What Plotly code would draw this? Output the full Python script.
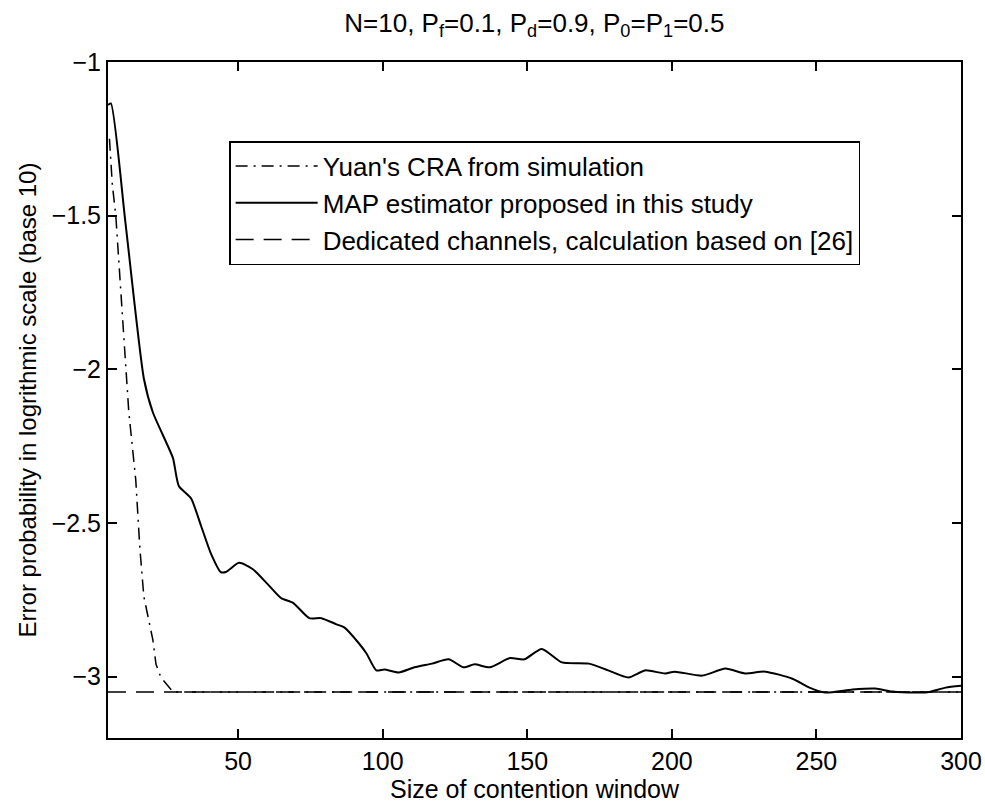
import plotly.graph_objects as go

# ---- data ----
x_map = [5, 6, 11, 17.4, 20.5, 25, 27.5, 29.5, 33.7, 37.2, 40.6, 44, 45.8, 50.3, 55, 60.3,
         64.9, 69, 74.6, 78.8, 84, 86.7, 91.6, 94.4, 97.8, 100.6, 105.5, 111, 117, 122.8,
         128, 131.8, 137, 144, 149, 155, 162, 171.3, 178, 185, 190.7, 197.7, 201, 210.5,
         218.5, 225.4, 232.3, 241.7, 247.6, 253, 262.5, 270.4, 276.3, 285.7, 289, 294.7, 300]
y_map = [-1.14, -1.135, -1.52, -2.03, -2.14, -2.235, -2.29, -2.38, -2.42, -2.51, -2.60,
         -2.66, -2.66, -2.63, -2.65, -2.70, -2.745, -2.76, -2.81, -2.81, -2.83, -2.84,
         -2.89, -2.925, -2.98, -2.977, -2.987, -2.97, -2.958, -2.944, -2.97, -2.96, -2.97,
         -2.94, -2.944, -2.91, -2.954, -2.958, -2.98, -3.003, -2.98, -2.99, -2.984, -2.997,
         -2.974, -2.99, -2.984, -3.007, -3.036, -3.052, -3.042, -3.039, -3.049, -3.052,
         -3.05, -3.036, -3.03]

x_yuan = [5.5, 6.5, 7.7, 9.4, 11.5, 12.2, 14.6, 16, 17.4, 20.5, 21.6, 23.3, 25.7, 27.5, 300]
y_yuan = [-1.25, -1.4, -1.50, -1.74, -2.02, -2.14, -2.36, -2.58, -2.74, -2.88, -2.96,
          -3.003, -3.03, -3.05, -3.05]

x_ded = [5, 300]
y_ded = [-3.05, -3.05]

x_ticks = [50, 100, 150, 200, 250, 300]
y_ticks = [-1, -1.5, -2, -2.5, -3]

title_text = "N=10, P<sub>f</sub>=0.1, P<sub>d</sub>=0.9, P<sub>0</sub>=P<sub>1</sub>=0.5"
names = ["Yuan's CRA from simulation",
         "MAP estimator proposed in this study",
         "Dedicated channels, calculation based on [26]"]

FONT = "Liberation Sans, Arial, sans-serif"

fig = go.Figure()
fig.add_trace(go.Scatter(x=x_yuan, y=y_yuan, mode="lines", name=names[0], legendgroup="a",
                         line=dict(color="black", width=1.5, dash="12px,6px,2px,6px")))
fig.add_trace(go.Scatter(x=x_map, y=y_map, mode="lines", name=names[1], legendgroup="b",
                         line=dict(color="black", width=2, shape="spline", smoothing=0.6)))
fig.add_trace(go.Scatter(x=x_ded, y=y_ded, mode="lines", name=names[2], legendgroup="c",
                         line=dict(color="black", width=1.5, dash="18px,10px")))

axis_common = dict(showgrid=False, zeroline=False, showline=True, linecolor="black",
                   linewidth=2, mirror="ticks", ticks="inside", ticklen=9, tickwidth=1.5,
                   tickcolor="black", automargin=False,
                   tickfont=dict(family=FONT, size=25, color="black"))

fig.update_xaxes(range=[5, 300], tickvals=x_ticks,
                 title=dict(text="Size of contention window",
                            font=dict(family=FONT, size=25, color="black"), standoff=4),
                 **axis_common)
fig.update_yaxes(range=[-3.2, -1], tickvals=y_ticks,
                 title=dict(text="Error probability in logrithmic scale (base 10)",
                            font=dict(family=FONT, size=24, color="black"), standoff=8),
                 **axis_common)

fig.update_layout(
    width=985, height=808,
    margin=dict(l=108, r=24, t=62, b=70),
    paper_bgcolor="white", plot_bgcolor="white",
    title=dict(text=title_text, x=0.5425, xanchor="center", y=0.972, yanchor="middle",
               font=dict(family=FONT, size=26, color="black")),
    legend=dict(x=0.142, y=0.883, xanchor="left", yanchor="top",
                bgcolor="white", bordercolor="black", borderwidth=1.5,
                font=dict(family=FONT, size=26, color="black"),
                tracegroupgap=0, traceorder="grouped", itemwidth=82),
    showlegend=True,
)

fig.write_html("out.html")
